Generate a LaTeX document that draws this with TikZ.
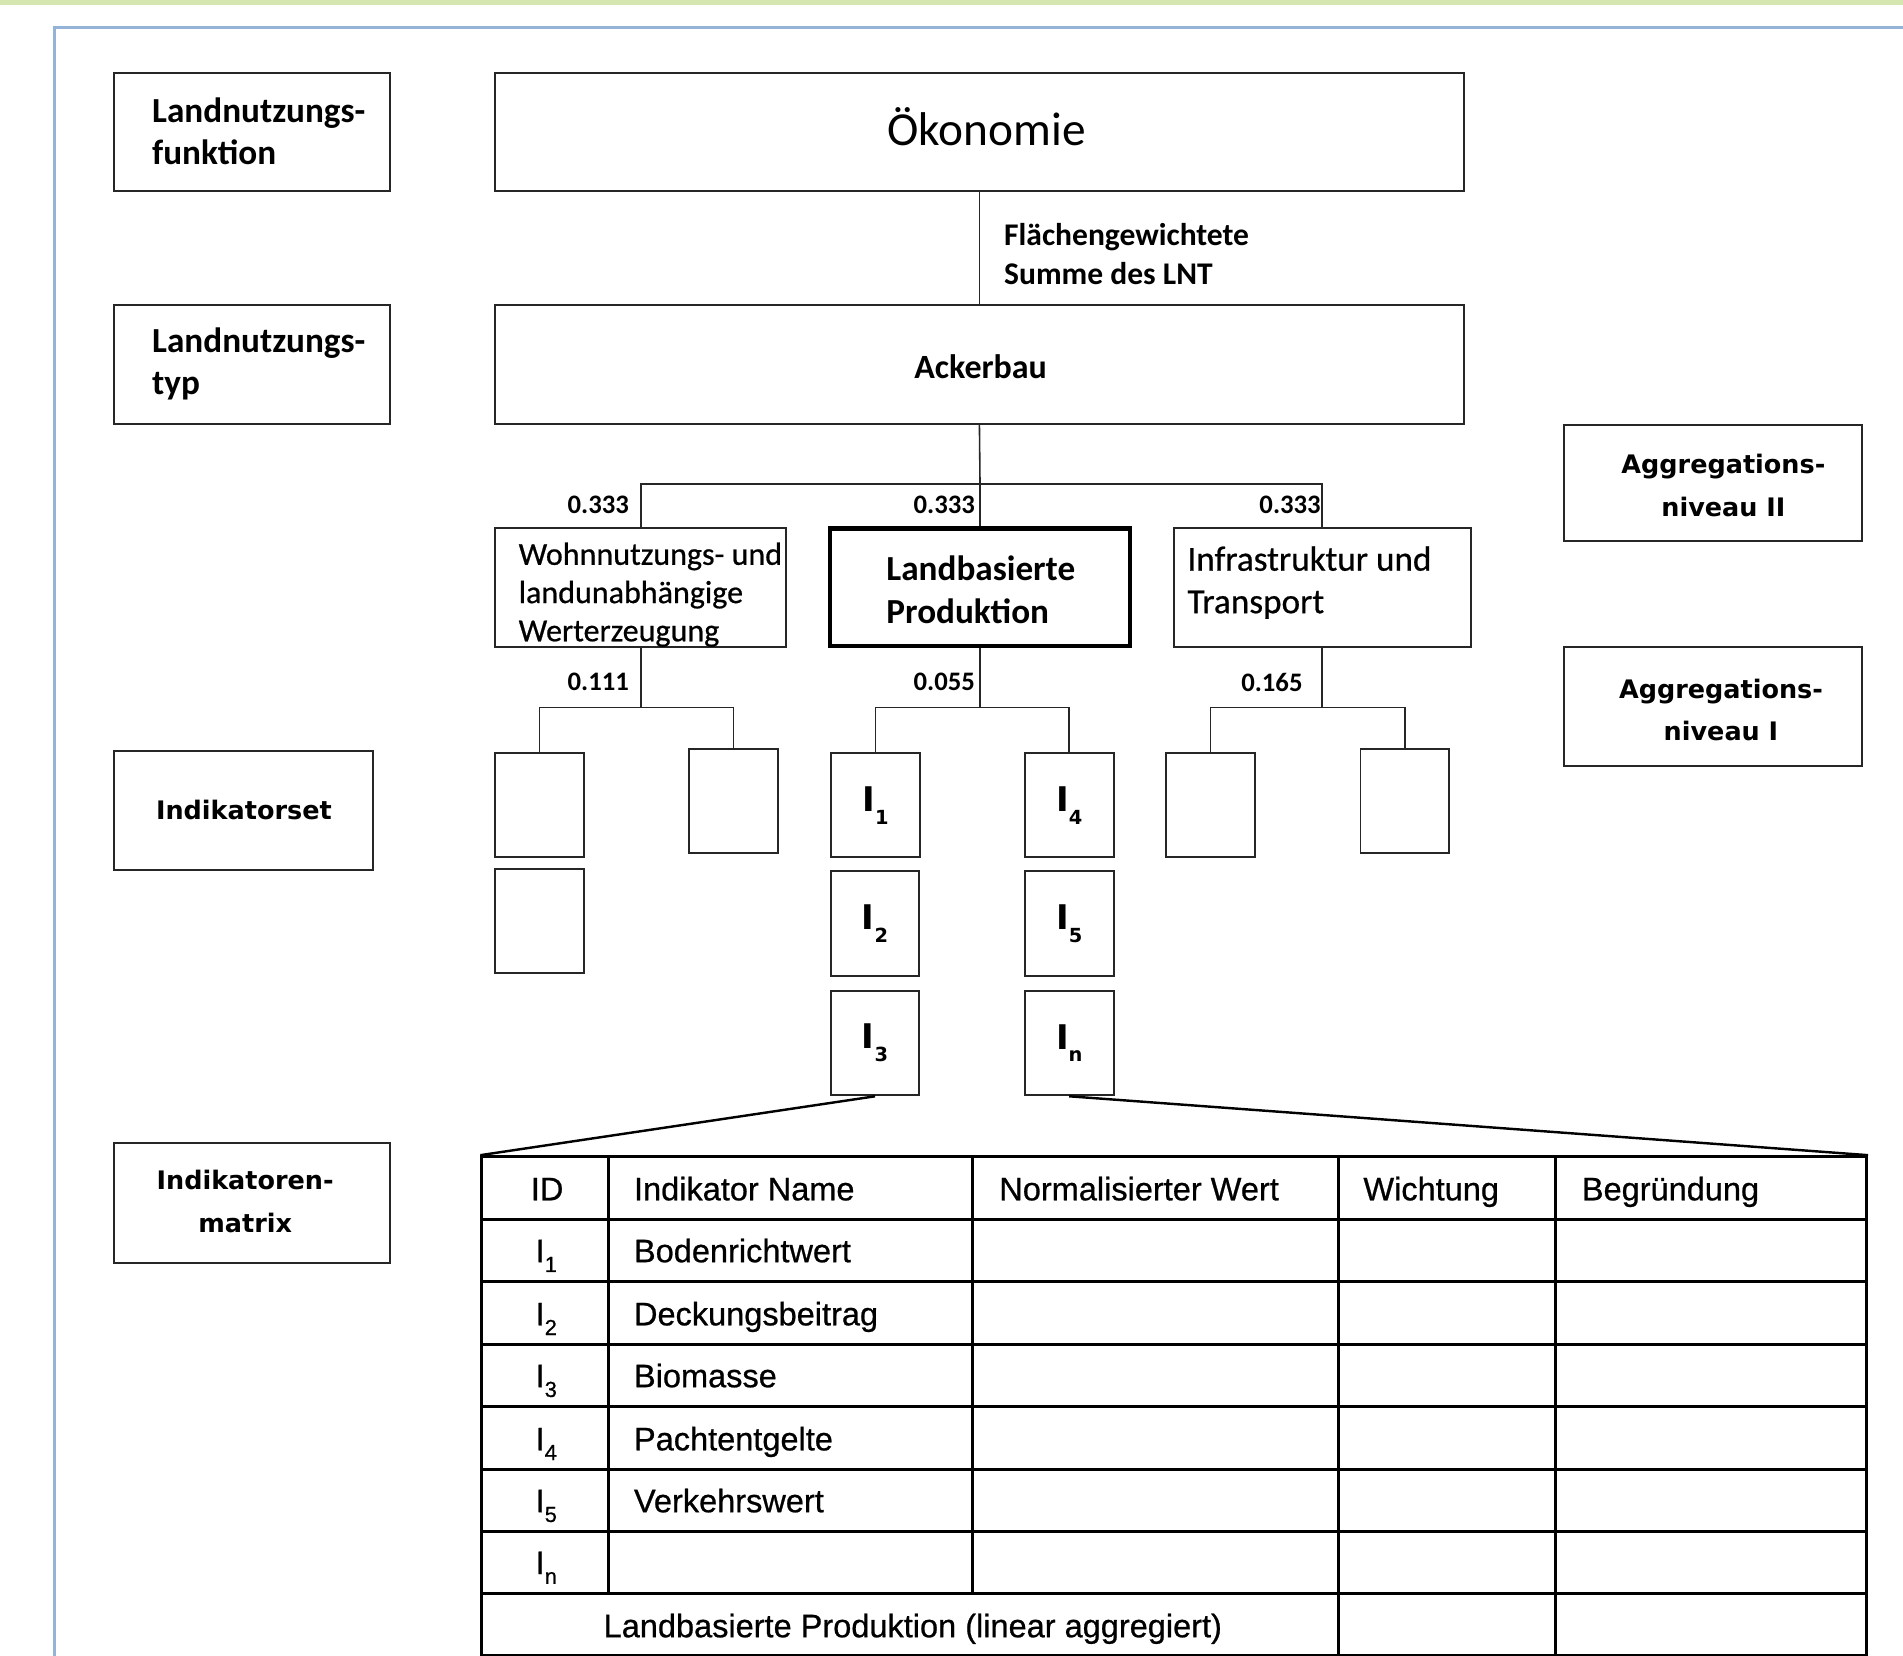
\documentclass[tikz,border=0pt]{standalone}
\usepackage{fontspec}
\setmainfont{Carlito}
\newfontfamily\carlitomed{Carlito}[FakeBold=0.6]
\newfontfamily\dejavu{DejaVu Sans}
\newfontfamily\arialf{Liberation Sans}[FakeBold=0.7]
\definecolor{bandgreen}{RGB}{214,230,176}
\definecolor{frameblue}{RGB}{149,179,215}
\newcommand{\isub}[1]{I\raisebox{-0.38em}{\fontsize{8}{8}\selectfont #1}}
\newcommand{\tsub}[1]{I\raisebox{-0.3em}{\fontsize{9}{9}\selectfont #1}}
\begin{document}
\begin{tikzpicture}[x=0.5pt,y=-0.5pt,
  bx/.style={draw=black!85,line width=0.8pt,inner sep=0pt},
  sq/.style={bx,minimum width=36.5pt,minimum height=43pt,font=\dejavu\bfseries\fontsize{14}{14}\selectfont},
  tx/.style={inner sep=0pt},
  lab/.style={tx,font=\bfseries\fontsize{14.5}{17.5}\selectfont,align=left,anchor=west},
  side/.style={tx,font=\dejavu\bfseries\fontsize{10.5}{17.5}\selectfont,align=center},
  num/.style={tx,font=\bfseries\fontsize{11}{13}\selectfont},
  ln/.style={draw=black!85,line width=0.65pt},
  tl/.style={line width=1.2pt},
  tt/.style={tx,font=\arialf\fontsize{13.4}{16}\selectfont,anchor=base west}
]
\useasboundingbox (0,0) rectangle (1568,1364);
\clip (0,0) rectangle (1568,1364);
% page decoration
\fill[bandgreen] (0,0) rectangle (1568,4);
\draw[frameblue,line width=1pt] (45,1370) -- (45,22.5) -- (1575,22.5);

% left category boxes
\node[bx,minimum width=113.5pt,minimum height=48.5pt] (lf) at (207.5,108.5) {};
\node[lab] (tlf) at (125,108) {Landnutzungs-\\funktion};
\node[bx,minimum width=113.5pt,minimum height=49pt] (lt) at (207.5,300) {};
\node[lab] (tlt) at (125,300) {Landnutzungs-\\typ};
\node[bx,minimum width=106.5pt,minimum height=49pt] (iset) at (200.5,668) {};
\node[side] (tiset) at (201,667) {Indikatorset};
\node[bx,minimum width=113.5pt,minimum height=49.5pt] (imat) at (207.5,991.5) {};
\node[side] (timat) at (202,990) {Indikatoren-\\matrix};

% right category boxes
\node[bx,minimum width=122.5pt,minimum height=48pt] (agg2) at (1411.5,398) {};
\node[side] (tagg2) at (1420,400) {Aggregations-\\niveau II};
\node[bx,minimum width=122.5pt,minimum height=49pt] (agg1) at (1411.5,582) {};
\node[side] (tagg1) at (1418,585) {Aggregations-\\niveau I};

% hierarchy
\node[bx,minimum width=399pt,minimum height=48.5pt] (oek) at (807,108.5) {};
\node[tx,font=\fontsize{19.5}{22}\selectfont] (toek) at (813,104) {Ökonomie};
\node[bx,minimum width=399pt,minimum height=49pt] (ack) at (807,300) {};
\node[tx,font=\bfseries\fontsize{14}{16}\selectfont] (tack) at (808,302) {Ackerbau};
\draw[ln] (oek.south) -- (ack.north);
\node[tx,font=\bfseries\fontsize{13}{16}\selectfont,align=left,anchor=west] (tfl) at (827,209) {Flächengewichtete\\Summe des LNT};

\node[bx,minimum width=120pt,minimum height=49pt] (wbox) at (528,484) {};
\node[tx,font=\carlitomed\fontsize{13.2}{15.75}\selectfont,align=left,anchor=west] (tw) at (427,490) {Wohnnutzungs- und\\landunabhängige\\Werterzeugung};
\node[draw=black,line width=1.8pt,inner sep=0pt,minimum width=123.5pt,minimum height=48.5pt] (lbox) at (807.5,484) {};
\node[lab,font=\bfseries\fontsize{14.5}{18}\selectfont] (tl) at (730,486) {Landbasierte\\Produktion};
\node[bx,minimum width=122.5pt,minimum height=49pt] (infbox) at (1089.5,484) {};
\node[tx,font=\carlitomed\fontsize{14.5}{17.5}\selectfont,align=left,anchor=west] (tinf) at (978,480) {Infrastruktur und\\Transport};

\coordinate (aj) at (807.5,399);
\draw[ln] (ack.south) -- (aj);
\draw[ln] (wbox.north) |- (aj) -| (infbox.north);
\draw[ln] (aj) -- (lbox.north);
\node[num] (n1) at (493,416) {0.333};
\node[num] (n2) at (778,416) {0.333};
\node[num] (n3) at (1063,416) {0.333};

% indicator boxes
\node[sq] (w1) at (444.5,663.5) {};
\node[sq] (w2) at (604.5,660) {};
\node[sq] (w3) at (444.5,759) {};
\node[sq] (i1) at (721.5,663.5) {\isub{1}};
\node[sq] (i2) at (721,761) {\isub{2}};
\node[sq] (i3) at (721,859.5) {\isub{3}};
\node[sq] (i4) at (881,663.5) {\isub{4}};
\node[sq] (i5) at (881,761) {\isub{5}};
\node[sq] (in) at (881,859.5) {\isub{n}};
\node[sq] (f1) at (997.5,663.5) {};
\node[sq] (f2) at (1157.5,660) {};

\coordinate (wj) at (528,583);
\draw[ln] (wbox.south) -- (wj);
\draw[ln] (w1.north) |- (wj) -| (w2.north);
\coordinate (lj) at (807.5,583);
\draw[ln] (lbox.south) -- (lj);
\draw[ln] (i1.north) |- (lj) -| (i4.north);
\coordinate (fj) at (1089.5,583);
\draw[ln] (infbox.south) -- (fj);
\draw[ln] (f1.north) |- (fj) -| (f2.north);
\node[num] (n4) at (493,562) {0.111};
\node[num] (n5) at (778,562) {0.055};
\node[num] (n6) at (1048,562) {0.165};

% table
\node[draw=black,line width=1.2pt,inner sep=0pt,minimum width=570.5pt,minimum height=205.5pt] (tab) at (967.5,1158.5) {};
\draw[line width=1pt] (i3.south) -- (tab.north west);
\draw[line width=1pt] (in.south) -- (tab.north east);
\foreach \yy in {1005,1056,1108,1159,1211,1262,1313}
  \draw[tl] (397,\yy) -- (1538,\yy);
\draw[tl] (501,953) -- (501,1313);
\draw[tl] (801,953) -- (801,1313);
\draw[tl] (1103,953) -- (1103,1364);
\draw[tl] (1282,953) -- (1282,1364);

\node[tt] (h1) at (437,989) {ID};
\node[tt] (h2) at (522,989) {Indikator Name};
\node[tt] (h3) at (823,989) {Normalisierter Wert};
\node[tt] (h4) at (1123,989) {Wichtung};
\node[tt] (h5) at (1303,989) {Begründung};

\node[tt] (r1a) at (441,1040) {\tsub{1}};
\node[tt] (r1b) at (522,1040) {Bodenrichtwert};
\node[tt] (r2a) at (441,1092) {\tsub{2}};
\node[tt] (r2b) at (522,1092) {Deckungsbeitrag};
\node[tt] (r3a) at (441,1143) {\tsub{3}};
\node[tt] (r3b) at (522,1143) {Biomasse};
\node[tt] (r4a) at (441,1195) {\tsub{4}};
\node[tt] (r4b) at (522,1195) {Pachtentgelte};
\node[tt] (r5a) at (441,1246) {\tsub{5}};
\node[tt] (r5b) at (522,1246) {Verkehrswert};
\node[tt] (r6a) at (441,1297) {\tsub{n}};
\node[tt] (r7) at (497,1349) {Landbasierte Produktion (linear aggregiert)};
\end{tikzpicture}
\end{document}
